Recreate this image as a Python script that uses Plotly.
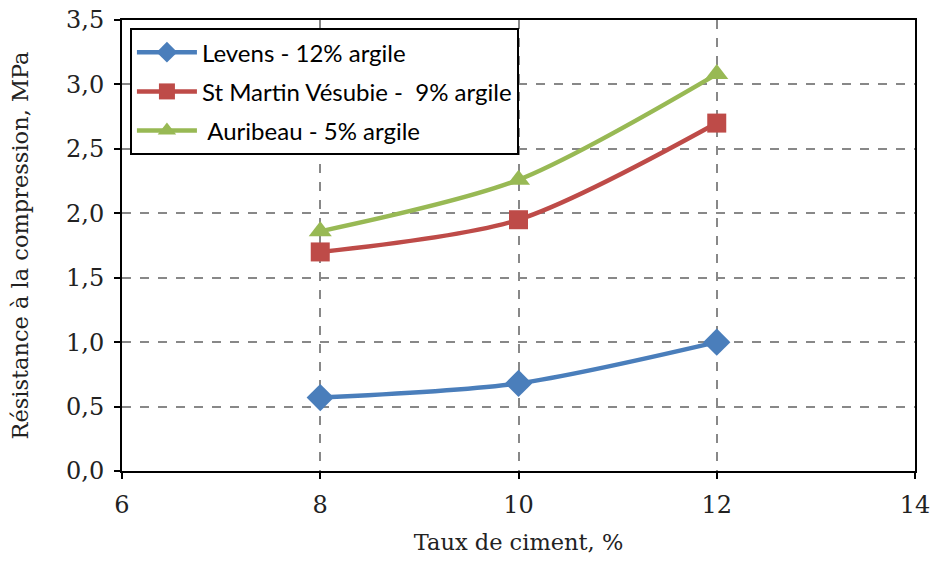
import plotly.graph_objects as go

x_ciment = [8, 10, 12]
levens = [0.57, 0.68, 1.00]
st_martin = [1.70, 1.95, 2.70]
auribeau = [1.86, 2.26, 3.08]

names = ["Levens - 12% argile", "St Martin Vésubie -  9% argile", " Auribeau - 5% argile"]
colors = ["#4A7EBB", "#BE4B48", "#98B954"]
symbols = ["diamond", "square", "triangle-up"]
sizes = [21, 19, 20]

fig = go.Figure()
for i, (yv, nm) in enumerate(zip([levens, st_martin, auribeau], names)):
    fig.add_trace(go.Scatter(
        x=x_ciment, y=yv, name=nm, mode="lines+markers",
        line=dict(color=colors[i], width=4.5, shape="spline", smoothing=0.8),
        marker=dict(symbol=symbols[i], size=sizes[i], color=colors[i]),
        legendgroup=f"g{i}",
    ))

serif = "DejaVu Serif, Liberation Serif, serif"
grid = dict(showgrid=True, gridcolor="#888888", griddash="dash", gridwidth=2,
            showline=True, linecolor="black", linewidth=2, mirror=True,
            ticks="outside", ticklen=6, tickcolor="black", tickwidth=1.5,
            zeroline=False, automargin=False, ticklabeloverflow="allow",
            ticklabelstandoff=5,
            tickfont=dict(family=serif, size=24, color="#222"),
            title_font=dict(family=serif, size=22.5, color="#222"))

fig.update_xaxes(range=[6, 14], dtick=2, title_text="Taux de ciment, %", title_standoff=16, **grid)
fig.update_yaxes(range=[0, 3.5], dtick=0.5, tickformat=".1f", title_text="Résistance à la compression, MPa",
                 title_standoff=31, **grid)

fig.update_layout(
    width=936, height=561,
    margin=dict(l=122, r=21, t=20, b=90),
    plot_bgcolor="white", paper_bgcolor="white",
    separators=", ",
    showlegend=True,
    legend=dict(x=0.01, y=0.982, xanchor="left", yanchor="top",
                bordercolor="black", borderwidth=2, bgcolor="white",
                font=dict(family="Lato, Open Sans, sans-serif", size=24, color="black"),
                tracegroupgap=5, itemwidth=60),
)

fig.write_html("out.html", config={"displayModeBar": False},
               post_script="document.body.style.margin='0px';")
